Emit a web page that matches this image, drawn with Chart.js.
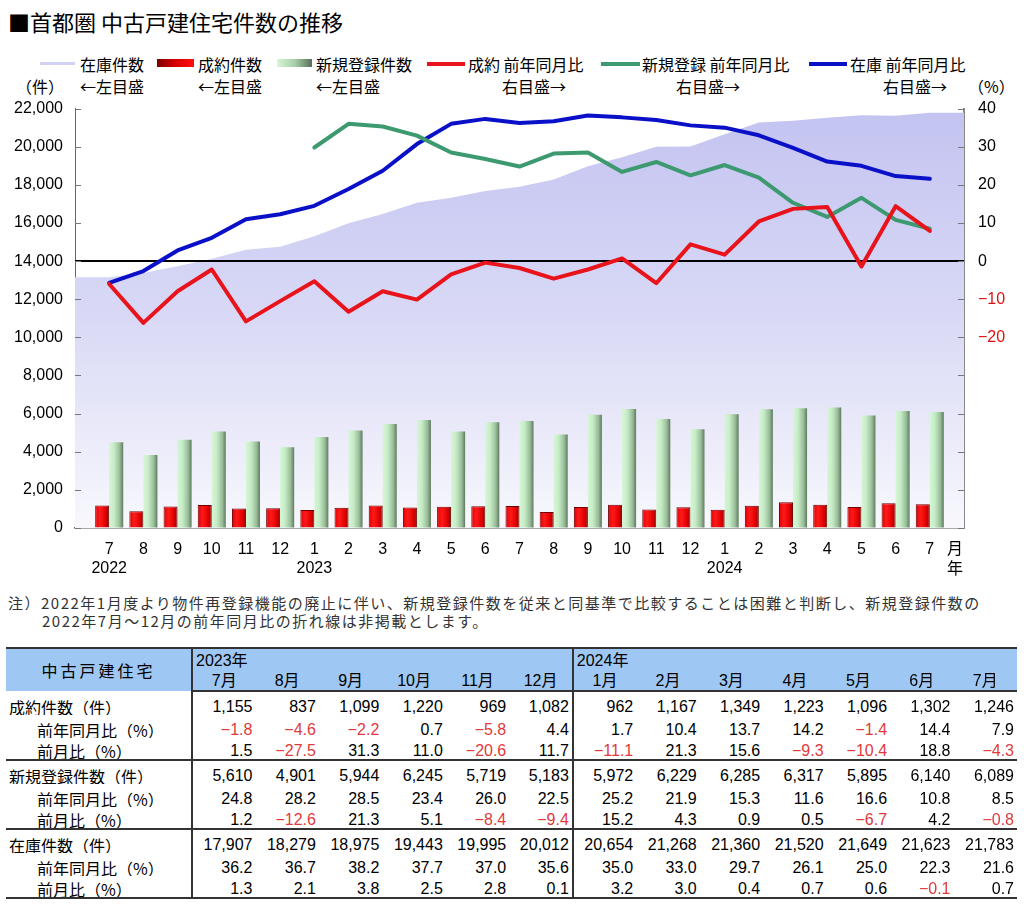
<!DOCTYPE html>
<html><head><meta charset="utf-8">
<script src="https://cdn.jsdelivr.net/npm/chart.js@4.4.1/dist/chart.umd.min.js"></script>
<style>
html,body{margin:0;padding:0;background:#fff;}
body{width:1024px;height:913px;position:relative;overflow:hidden;font-family:"Noto Sans CJK JP","Noto Sans",sans-serif;color:#000;}
.abs{position:absolute;white-space:nowrap;}
#title{left:8px;top:6px;font-size:22px;line-height:30px;}
.lg{font-size:16px;line-height:20px;}
.r1{top:54px;} .r2{top:76px;}
.sw{position:absolute;}
#chartwrap{position:absolute;left:0;top:85px;width:1024px;height:496px;}
.note{font-size:15px;line-height:18px;letter-spacing:1.5px;color:#333;}
.axl{font-size:16px;line-height:20px;}
table{position:absolute;left:6px;top:647px;border-collapse:collapse;table-layout:fixed;width:1011px;font-family:"Liberation Sans","Noto Sans CJK JP",sans-serif;font-size:16px;}
th,td{padding:0;white-space:nowrap;overflow:hidden;}
thead th{background:#9fc7f3;font-weight:normal;}
tr.h1 th{border-top:2px solid #333;height:21px;}
tr.h2 th{border-bottom:2px solid #333;height:20px;text-align:center;line-height:18px;vertical-align:bottom;}
th.yr{text-align:left;padding-left:3px;vertical-align:bottom;line-height:18px;}
th.corner{font-family:"Noto Sans CJK JP",sans-serif;letter-spacing:3px;text-align:center;font-size:16px;}
.vl{border-left:2px solid #333;}
td{height:23px;line-height:16px;vertical-align:bottom;text-align:right;padding-right:3px;}
tr.gend td{height:21px;border-bottom:2px solid #333;}
td.lab{text-align:left;padding-left:3px;font-family:"Noto Sans CJK JP",sans-serif;}
td.sub{padding-left:31px;}
.neg{color:#e03a3c;}
</style>
</head>
<body>
<div id="title" class="abs">■首都圏 中古戸建住宅件数の推移</div>

<div class="sw" style="left:40px;top:62px;width:35px;height:3px;background:#d2d2f5;"></div>
<div class="abs lg r1" style="left:80px;">在庫件数</div>
<div class="sw" style="left:157px;top:59px;width:37px;height:8px;background:linear-gradient(to right,#7a0000,#d80000 50%,#ff1010);"></div>
<div class="abs lg r1" style="left:198px;">成約件数</div>
<div class="sw" style="left:277px;top:59px;width:35px;height:8px;background:linear-gradient(to right,#d8f5d8,#a8d0a8 50%,#5a6e5a);"></div>
<div class="abs lg r1" style="left:316px;">新規登録件数</div>
<div class="sw" style="left:427px;top:62px;width:38px;height:4px;background:#e8131b;"></div>
<div class="abs lg r1" style="left:468px;">成約 前年同月比</div>
<div class="sw" style="left:601px;top:62px;width:39px;height:4px;background:#3d9a70;"></div>
<div class="abs lg r1" style="left:642px;">新規登録 前年同月比</div>
<div class="sw" style="left:809px;top:62px;width:38px;height:4px;background:#0a10c8;"></div>
<div class="abs lg r1" style="left:850px;">在庫 前年同月比</div>

<div class="abs lg r2" style="left:16px;">（件）</div>
<div class="abs lg r2" style="left:80px;">←左目盛</div>
<div class="abs lg r2" style="left:198px;">←左目盛</div>
<div class="abs lg r2" style="left:316px;">←左目盛</div>
<div class="abs lg r2" style="left:502px;">右目盛→</div>
<div class="abs lg r2" style="left:676px;">右目盛→</div>
<div class="abs lg r2" style="left:883px;">右目盛→</div>
<div class="abs lg r2" style="left:968px;">（%）</div>

<div id="chartwrap"><canvas id="c" width="1024" height="496"></canvas></div>
<div class="abs axl" style="left:947px;top:537px;">月</div>
<div class="abs axl" style="left:947px;top:557px;">年</div>

<div class="abs note" style="left:8px;top:594px;">注）2022年1月度より物件再登録機能の廃止に伴い、新規登録件数を従来と同基準で比較することは困難と判断し、新規登録件数の</div>
<div class="abs note" style="left:42px;top:612px;">2022年7月～12月の前年同月比の折れ線は非掲載とします。</div>

<table id="tbl"></table>

<script>
// ---- chart data (2022/7 - 2024/7) ----
const monthLabels = ['7','8','9','10','11','12','1','2','3','4','5','6','7','8','9','10','11','12','1','2','3','4','5','6','7'];
const yearLabels  = ['2022','','','','','','2023','','','','','','','','','','','','2024','','','','','',''];
const stockCount    = [13148,13372,13730,14120,14595,14758,15299,15991,16469,17066,17319,17680,17907,18279,18975,19443,19995,20012,20654,21268,21360,21520,21649,21623,21783];
const contractCount = [1176,877,1124,1212,1029,1036,946,1057,1186,1071,1112,1138,1155,837,1099,1220,969,1082,962,1167,1349,1223,1096,1302,1246];
const newCount      = [4495,3823,4626,5061,4539,4231,4770,5110,5451,5660,5056,5542,5610,4901,5944,6245,5719,5183,5972,6229,6285,6317,5895,6140,6089];
const contractYoY   = [-6.0,-16.2,-7.9,-2.2,-15.8,-10.5,-5.3,-13.3,-7.9,-10.1,-3.5,-0.4,-1.8,-4.6,-2.2,0.7,-5.8,4.4,1.7,10.4,13.7,14.2,-1.4,14.4,7.9];
const newYoY        = [null,null,null,null,null,null,29.8,36.0,35.3,32.9,28.5,26.8,24.8,28.2,28.5,23.4,26.0,22.5,25.2,21.9,15.3,11.6,16.6,10.8,8.5];
const stockYoY      = [-5.7,-2.6,2.8,6.1,11.0,12.3,14.5,18.9,23.7,30.7,36.0,37.3,36.2,36.7,38.2,37.7,37.0,35.6,35.0,33.0,29.7,26.1,25.0,22.3,21.6];

// ---- table data (2023/7 - 2024/7) ----
const tableYears  = ['2023年','2024年'];
const tableMonths = ['7月','8月','9月','10月','11月','12月','1月','2月','3月','4月','5月','6月','7月'];
const tContract    = [1155,837,1099,1220,969,1082,962,1167,1349,1223,1096,1302,1246];
const tContractYoY = [-1.8,-4.6,-2.2,0.7,-5.8,4.4,1.7,10.4,13.7,14.2,-1.4,14.4,7.9];
const tContractMoM = [1.5,-27.5,31.3,11.0,-20.6,11.7,-11.1,21.3,15.6,-9.3,-10.4,18.8,-4.3];
const tNew         = [5610,4901,5944,6245,5719,5183,5972,6229,6285,6317,5895,6140,6089];
const tNewYoY      = [24.8,28.2,28.5,23.4,26.0,22.5,25.2,21.9,15.3,11.6,16.6,10.8,8.5];
const tNewMoM      = [1.2,-12.6,21.3,5.1,-8.4,-9.4,15.2,4.3,0.9,0.5,-6.7,4.2,-0.8];
const tStock       = [17907,18279,18975,19443,19995,20012,20654,21268,21360,21520,21649,21623,21783];
const tStockYoY    = [36.2,36.7,38.2,37.7,37.0,35.6,35.0,33.0,29.7,26.1,25.0,22.3,21.6];
const tStockMoM    = [1.3,2.1,3.8,2.5,2.8,0.1,3.2,3.0,0.4,0.7,0.6,-0.1,0.7];

// ---- build table ----
(function(){
  const fmtN = v => v.toLocaleString('en-US');
  const fmtP = v => (v < 0 ? '−' + Math.abs(v).toFixed(1) : v.toFixed(1));
  let h = '<colgroup><col style="width:186px">';
  for (let i = 0; i < tableMonths.length; i++) h += '<col style="width:63.46px">';
  h += '</colgroup><thead><tr class="h1"><th rowspan="2" class="corner">中古戸建住宅</th>';
  h += '<th colspan="6" class="yr vl">' + tableYears[0] + '</th><th colspan="7" class="yr vl">' + tableYears[1] + '</th></tr><tr class="h2">';
  tableMonths.forEach((m, i) => { h += '<th' + ((i === 0 || i === 6) ? ' class="vl"' : '') + '>' + m + '</th>'; });
  h += '</tr></thead><tbody>';
  const rows = [
    ['成約件数（件）', tContract, 'n', false, false],
    ['前年同月比（%）', tContractYoY, 'p', true, false],
    ['前月比（%）', tContractMoM, 'p', true, true],
    ['新規登録件数（件）', tNew, 'n', false, false],
    ['前年同月比（%）', tNewYoY, 'p', true, false],
    ['前月比（%）', tNewMoM, 'p', true, true],
    ['在庫件数（件）', tStock, 'n', false, false],
    ['前年同月比（%）', tStockYoY, 'p', true, false],
    ['前月比（%）', tStockMoM, 'p', true, true]
  ];
  rows.forEach(r => {
    h += '<tr' + (r[4] ? ' class="gend"' : '') + '><td class="lab' + (r[3] ? ' sub' : '') + '">' + r[0] + '</td>';
    r[1].forEach((v, i) => {
      const cls = [];
      if (i === 0 || i === 6) cls.push('vl');
      if (r[2] === 'p' && v < 0) cls.push('neg');
      h += '<td' + (cls.length ? ' class="' + cls.join(' ') + '"' : '') + '>' + (r[2] === 'n' ? fmtN(v) : fmtP(v)) + '</td>';
    });
    h += '</tr>';
  });
  h += '</tbody>';
  document.getElementById('tbl').innerHTML = h;
})();

// ---- chart ----
const pad = arr => [null, ...arr, null];
const xLabels = ['', ...monthLabels.map((m, i) => [m, yearLabels[i]]), ''];
const areaData = [stockCount[0], ...stockCount, stockCount[stockCount.length - 1]];
const CAT_PCT = 0.82;

function barFill(stops, pos) {
  return (c) => {
    if (c.type !== 'data' || !c.chart.scales.x) return stops[1][1];
    const xs = c.chart.scales.x;
    const cw = xs.getPixelForValue(1) - xs.getPixelForValue(0);
    const center = xs.getPixelForValue(c.dataIndex);
    const w = cw * CAT_PCT / 2;
    const left = center - w + pos * w;
    if (!isFinite(left) || !isFinite(w) || w <= 0) return stops[1][1];
    const g = c.chart.ctx.createLinearGradient(left, 0, left + w, 0);
    stops.forEach(s => g.addColorStop(s[0], s[1]));
    return g;
  };
}

const zeroLine = {
  id: 'zeroLine',
  afterDatasetDraw(chart, args) {
    if (args.index !== 0) return;
    const a = chart.chartArea, ctx = chart.ctx;
    const y = Math.round(chart.scales.y2.getPixelForValue(0));
    ctx.save(); ctx.strokeStyle = '#000'; ctx.lineWidth = 2;
    ctx.beginPath(); ctx.moveTo(a.left, y); ctx.lineTo(a.right, y); ctx.stroke(); ctx.restore();
  }
};
const innerTicks = {
  id: 'innerTicks',
  afterDatasetsDraw(chart) {
    const a = chart.chartArea, ctx = chart.ctx;
    ctx.save(); ctx.lineWidth = 1; ctx.strokeStyle = '#777';
    chart.scales.y.ticks.forEach(t => {
      const y = Math.round(chart.scales.y.getPixelForValue(t.value)) + 0.5;
      ctx.beginPath(); ctx.moveTo(a.left, y); ctx.lineTo(a.left + 6, y); ctx.stroke();
    });
    chart.scales.y2.ticks.forEach(t => {
      const y = Math.round(chart.scales.y2.getPixelForValue(t.value)) + 0.5;
      ctx.beginPath(); ctx.moveTo(a.right, y); ctx.lineTo(a.right - 6, y); ctx.stroke();
    });
    ctx.restore();
  }
};

Chart.defaults.font.family = '"Liberation Sans", Arial, sans-serif';
Chart.defaults.font.size = 16;
Chart.defaults.color = '#000';

const lineDs = (label, data, color) => ({
  type: 'line', label, data: pad(data), yAxisID: 'y2', borderColor: color, backgroundColor: color,
  borderWidth: 4, pointRadius: 0, tension: 0, fill: false, spanGaps: false,
  borderJoinStyle: 'round', borderCapStyle: 'round', order: 1
});

new Chart(document.getElementById('c'), {
  data: {
    labels: xLabels,
    datasets: [
      {
        type: 'line', label: '在庫件数', data: areaData, yAxisID: 'y', order: 10,
        borderWidth: 0, borderColor: 'rgba(0,0,0,0)', pointRadius: 0, tension: 0, fill: 'origin',
        backgroundColor: (c) => {
          const a = c.chart.chartArea;
          if (!a) return '#d8d8f6';
          const g = c.chart.ctx.createLinearGradient(0, a.top, 0, a.bottom);
          g.addColorStop(0, '#c3c3f1'); g.addColorStop(0.5, '#d9d9f6'); g.addColorStop(1, '#f8f8fd');
          return g;
        }
      },
      {
        type: 'bar', label: '成約件数', data: pad(contractCount), yAxisID: 'y', order: 5,
        categoryPercentage: CAT_PCT, barPercentage: 1, borderWidth: 1, borderColor: '#700000',
        backgroundColor: barFill([[0, '#e00000'], [0.35, '#ff1a1a'], [0.75, '#e00000'], [1, '#8a0000']], 0)
      },
      {
        type: 'bar', label: '新規登録件数', data: pad(newCount), yAxisID: 'y', order: 5,
        categoryPercentage: CAT_PCT, barPercentage: 1, borderWidth: 0,
        backgroundColor: barFill([[0, '#d6f6d6'], [0.35, '#c6ecc6'], [0.75, '#98bc98'], [1, '#5f7a5f']], 1)
      },
      lineDs('成約 前年同月比', contractYoY, '#e8131b'),
      lineDs('新規登録 前年同月比', newYoY, '#3d9a70'),
      lineDs('在庫 前年同月比', stockYoY, '#0a10c8')
    ]
  },
  options: {
    responsive: false, animation: false, devicePixelRatio: 1,
    layout: { padding: { top: 0, left: 0, right: 0, bottom: 0 } },
    plugins: { legend: { display: false }, tooltip: { enabled: false } },
    scales: {
      x: {
        type: 'category', offset: false,
        grid: { display: false },
        border: { display: true, color: '#555', width: 1.5 },
        ticks: { autoSkip: false, maxRotation: 0, minRotation: 0, padding: 4, font: { size: 16 } },
        afterFit(s) { s.height = 53; }
      },
      y: {
        position: 'left', min: 0, max: 22000,
        grid: { display: true, drawOnChartArea: false, drawTicks: false, color: 'rgba(0,0,0,0)' },
        border: { display: true, color: '#666', width: 1 },
        ticks: { stepSize: 2000, padding: 12, callback: v => v.toLocaleString('en-US') },
        afterFit(s) { s.width = 75; }
      },
      y2: {
        position: 'right', min: -70, max: 40,
        grid: { display: true, drawOnChartArea: false, drawTicks: false, color: 'rgba(0,0,0,0)' },
        border: { display: true, color: '#888', width: 2 },
        ticks: {
          stepSize: 10, padding: 14,
          color: c => (c.tick && c.tick.value < 0 ? '#e01010' : '#000'),
          callback: v => (v < -20 ? '' : (v < 0 ? '−' + Math.abs(v) : String(v)))
        },
        afterFit(s) { s.width = 60; }
      }
    }
  },
  plugins: [zeroLine, innerTicks]
});
</script>
</body></html>
